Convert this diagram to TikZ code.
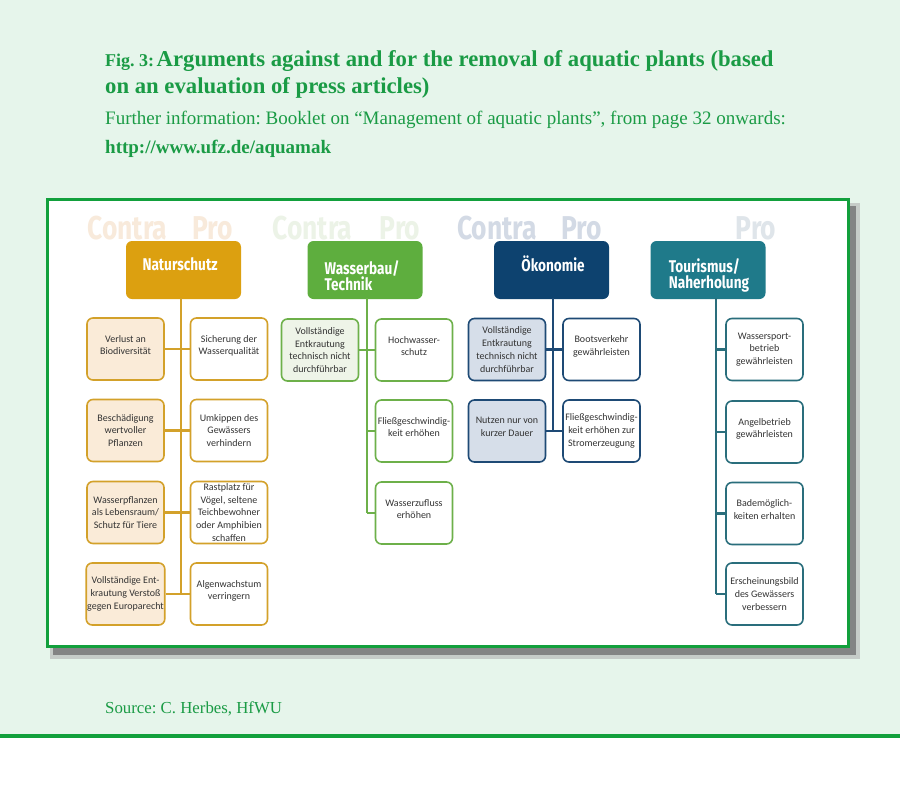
\documentclass[tikz,border=0pt]{standalone}
\usepackage{fontspec}
\setmainfont{Liberation Serif}
\newfontfamily\boxfont{Carlito}
\newfontfamily\hdrfont[FakeStretch=0.8]{Fira Sans}
\frenchspacing
\definecolor{bg}{HTML}{E6F5EB}
\definecolor{tgreen}{HTML}{1A9B45}
\definecolor{framec}{HTML}{12A03C}
\definecolor{natC}{HTML}{DCA010}
\definecolor{natB}{HTML}{D3A12A}
\definecolor{natL}{HTML}{FAEBD8}
\definecolor{natF}{HTML}{F8EADB}
\definecolor{wasC}{HTML}{5EAE3E}
\definecolor{wasB}{HTML}{6DB04A}
\definecolor{wasL}{HTML}{EEF4E8}
\definecolor{wasF}{HTML}{ECF3E7}
\definecolor{okoC}{HTML}{0D426F}
\definecolor{okoB}{HTML}{1E4A75}
\definecolor{okoL}{HTML}{D6DEE9}
\definecolor{okoF}{HTML}{D3DAE5}
\definecolor{touC}{HTML}{1F7A8A}
\definecolor{touB}{HTML}{2A6E7C}
\definecolor{touF}{HTML}{DFE5EA}
\definecolor{boxtext}{HTML}{333333}
\tikzset{
  hdr/.style={rectangle, rounded corners=6pt, minimum width=115pt, minimum height=58pt, inner sep=0pt},
  hdrtext/.style={text=white, align=left, inner sep=0pt, font=\hdrfont\bfseries\fontsize{17}{16}\selectfont},
  faded/.style={inner sep=0pt, font=\hdrfont\bfseries\fontsize{33}{34}\selectfont},
  abox/.style={rectangle, rounded corners=6pt, line width=1.6pt, minimum width=77pt, minimum height=62pt,
    align=center, inner sep=1pt, text=boxtext, font=\boxfont\fontsize{10}{12.8}\selectfont},
  up/.style={text depth=8pt},
  conn/.style={line width=2.6pt},
  ttl/.style={anchor=base west, inner sep=0pt, text=tgreen}
}
\begin{document}
\begin{tikzpicture}[x=1pt,y=-1pt]
\useasboundingbox (0,0) rectangle (900,787);
\fill[bg] (0,0) rectangle (900,734);
\fill[framec] (0,733.5) rectangle (900,738);
% titles
\node[ttl, font=\bfseries] (t1) at (105,66) {{\fontsize{18}{20}\selectfont Fig. 3:} {\fontsize{22.7}{26}\selectfont Arguments against and for the removal of aquatic plants (based}};
\node[ttl, font=\bfseries\fontsize{22.7}{26}\selectfont] (t2) at (105,93) {on an evaluation of press articles)};
\node[ttl, font=\fontsize{19}{20}\selectfont] (t3) at (105,124) {Further information: Booklet on “Management of aquatic plants”, from page 32 onwards:};
\node[ttl, font=\bfseries\fontsize{19}{20}\selectfont] (t4) at (105,153) {http://www.ufz.de/aquamak};
\node[ttl, font=\fontsize{16.8}{20}\selectfont] (src) at (105,713) {Source: C. Herbes, HfWU};
% panel
\fill[black!30, opacity=0.6] (50,203) rectangle (860,659);
\fill[black!55, opacity=0.8] (53,206) rectangle (856,655);
\node[draw=framec, line width=3pt, fill=white, minimum width=801pt, minimum height=447pt, inner sep=0pt] (panel) at (447.5,422.5) {};
% faded labels
\node[faded, text=natF] (c1) at (127.5,228) {Contra};
\node[faded, text=natF] (p1) at (212.5,228) {Pro};
\node[faded, text=wasF] (c2) at (312.5,228) {Contra};
\node[faded, text=wasF] (p2) at (400,228) {Pro};
\node[faded, text=okoF] (c3) at (497,228) {Contra};
\node[faded, text=okoF] (p3) at (581.5,228) {Pro};
\node[faded, text=touF] (p4) at (756,228) {Pro};
% headers
\node[hdr, fill=natC] (h1) at (183.5,270) {};
\node[hdr, fill=wasC] (h2) at (365,270) {};
\node[hdr, fill=okoC] (h3) at (551.5,270) {};
\node[hdr, fill=touC] (h4) at (708,270) {};
\node[hdrtext] (h1t) at (180,264) {Naturschutz};
\node[hdrtext] (h2t) at (362,275.5) {Wasserbau/\\Technik};
\node[hdrtext] (h3t) at (553,264) {Ökonomie};
\node[hdrtext] (h4t) at (709,275.5) {Tourismus/\\Naherholung};
% column 1
\coordinate (k1a) at (181,298);
\coordinate (k1b) at (181,594);
\draw[conn, natB] (k1a) -- (k1b);
\node[abox, up, draw=natB, fill=natL] (n1l) at (125.5,349) {Verlust an\\Biodiversität};
\node[abox, up, draw=natB, fill=white] (n1r) at (229,349) {Sicherung der\\Wasserqualität};
\node[abox, draw=natB, fill=natL] (n2l) at (125.5,430.5) {Beschädigung\\wertvoller\\Pflanzen};
\node[abox, draw=natB, fill=white] (n2r) at (229,430.5) {Umkippen des\\Gewässers\\verhindern};
\node[abox, draw=natB, fill=natL] (n3l) at (125.5,512.5) {Wasserpflanzen\\als Lebensraum/\\Schutz für Tiere};
\node[abox, draw=natB, fill=white] (n3r) at (229,512.5) {Rastplatz für\\Vögel, seltene\\Teichbewohner\\oder Amphibien\\schaffen};
\node[abox, draw=natB, fill=natL] (n4l) at (125.5,594) {Vollständige Ent-\\krautung Verstoß\\gegen Europarecht};
\node[abox, up, draw=natB, fill=white] (n4r) at (229,594) {Algenwachstum\\verringern};
\draw[conn, natB] (n1l) -- (n1r);
\draw[conn, natB] (n2l) -- (n2r);
\draw[conn, natB] (n3l) -- (n3r);
\draw[conn, natB] (n4l) -- (n4r);
% column 2
\coordinate (k2a) at (367,298);
\coordinate (k2b) at (367,513);
\draw[conn, wasB] (k2a) -- (k2b);
\node[abox, draw=wasB, fill=wasL] (w1l) at (320,350) {Vollständige\\Entkrautung\\technisch nicht\\durchführbar};
\node[abox, up, draw=wasB, fill=white] (w1r) at (414,350) {Hochwasser-\\schutz};
\node[abox, up, draw=wasB, fill=white] (w2r) at (414,431) {Fließgeschwindig-\\keit erhöhen};
\node[abox, up, draw=wasB, fill=white] (w3r) at (414,513) {Wasserzufluss\\erhöhen};
\draw[conn, wasB] (w1l) -- (w1r);
\draw[conn, wasB] (k2a |- w2r) -- (w2r);
\draw[conn, wasB] (k2b) -- (w3r);
% column 3
\coordinate (k3a) at (553,298);
\coordinate (k3b) at (553,431);
\draw[conn, okoB] (k3a) -- (k3b);
\node[abox, draw=okoB, fill=okoL] (o1l) at (507,349.5) {Vollständige\\Entkrautung\\technisch nicht\\durchführbar};
\node[abox, up, draw=okoB, fill=white] (o1r) at (601.5,349.5) {Bootsverkehr\\gewährleisten};
\node[abox, up, draw=okoB, fill=okoL] (o2l) at (507,431) {Nutzen nur von\\kurzer Dauer};
\node[abox, draw=okoB, fill=white] (o2r) at (601.5,431) {Fließgeschwindig-\\keit erhöhen zur\\Stromerzeugung};
\draw[conn, okoB] (o1l) -- (o1r);
\draw[conn, okoB] (o2l) -- (o2r);
% column 4
\coordinate (k4a) at (716,298);
\coordinate (k4b) at (716,594);
\draw[conn, touB] (k4a) -- (k4b);
\node[abox, draw=touB, fill=white] (r1) at (764.5,349.5) {Wassersport-\\betrieb\\gewährleisten};
\node[abox, up, draw=touB, fill=white] (r2) at (764.5,432) {Angelbetrieb\\gewährleisten};
\node[abox, up, draw=touB, fill=white] (r3) at (764.5,513.5) {Bademöglich-\\keiten erhalten};
\node[abox, draw=touB, fill=white] (r4) at (764.5,594) {Erscheinungsbild\\des Gewässers\\verbessern};
\draw[conn, touB] (k4a |- r1) -- (r1);
\draw[conn, touB] (k4a |- r2) -- (r2);
\draw[conn, touB] (k4a |- r3) -- (r3);
\draw[conn, touB] (k4b) -- (r4);
\end{tikzpicture}
\end{document}
